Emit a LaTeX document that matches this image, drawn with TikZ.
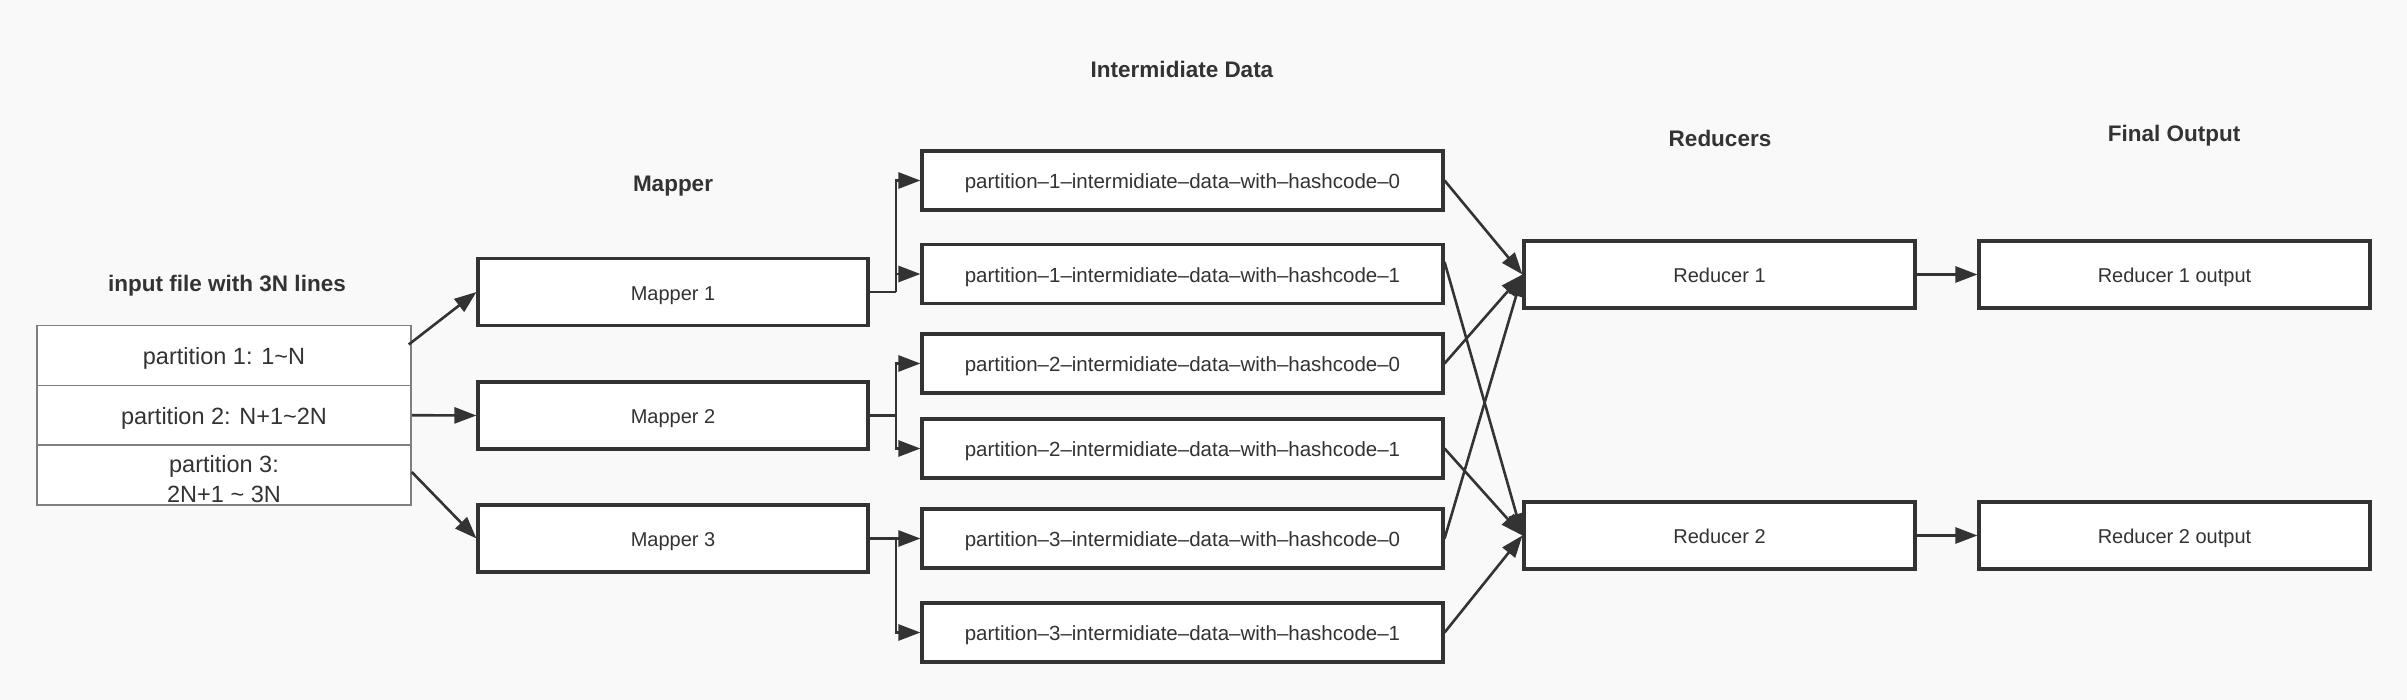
\documentclass[tikz,border=0pt]{standalone}
\usepackage{fontspec}
\setmainfont{Liberation Sans}
\usetikzlibrary{arrows.meta}
\definecolor{ink}{HTML}{333333}
\definecolor{bg}{HTML}{F9F9F9}
\definecolor{thin}{HTML}{808080}
\tikzset{
  box/.style={draw=ink, line width=3.1pt, fill=white, text=ink, inner sep=0pt,
    text height=16.5pt, text depth=0pt, font=\fontsize{20}{24}\selectfont},
  mapbox/.style={box, minimum width=390pt, minimum height=67pt},
  pbox/.style={box, minimum width=521pt, minimum height=59pt, font=\fontsize{20.5}{24}\selectfont},
  rbox/.style={box, minimum width=391pt, minimum height=67pt},
  rowbox/.style={draw=thin, line width=1.5pt, fill=white, inner sep=0pt, text=ink,
    minimum width=374pt, minimum height=59.7pt, font=\fontsize{23.5}{30}\selectfont},
  rowtext/.style={text=ink, inner sep=0pt, align=center, font=\fontsize{23.5}{30}\selectfont},
  title/.style={text=ink, inner sep=0pt, text height=17pt, text depth=0pt,
    font=\fontsize{22.5}{26}\selectfont\bfseries},
  conn/.style={draw=ink, line width=2.6pt},
  arr/.style={conn, -{Triangle[length=22pt,width=16pt]}},
}
\begin{document}
\begin{tikzpicture}[x=1pt,y=-1pt]
\useasboundingbox (0,0) rectangle (2407,700);
\fill[bg] (0,0) rectangle (2407,700);

% titles
\node[title] (tin) at (227,283) {input file with 3N lines};
\node[title] (tmap) at (673,183) {Mapper};
\node[title] (tint) at (1182,69) {Intermidiate Data};
\node[title] (tred) at (1720,138) {Reducers};
\node[title] (tout) at (2174,133) {Final Output};

% input file
\node[rowbox] (row1) at (224,355.5) {};
\node[rowbox] (row2) at (224,415.2) {};
\node[rowbox] (row3) at (224,475) {};
\node[rowtext] (row1t) at (224,358) {partition 1: 1\textasciitilde N};
\node[rowtext] (row2t) at (224,418) {partition 2: N+1\textasciitilde 2N};
\node[rowtext] (row3t) at (224,479.5) {partition 3:\\2N+1 \textasciitilde\ 3N};

% mappers
\node[mapbox] (m1) at (673,292) {Mapper 1};
\node[mapbox] (m2) at (673,415.5) {Mapper 2};
\node[mapbox] (m3) at (673,538.5) {Mapper 3};

% intermediate data
\node[pbox] (p11) at (1182.5,180.5) {partition–1–intermidiate–data–with–hashcode–0};
\node[pbox] (p12) at (1182.5,274) {partition–1–intermidiate–data–with–hashcode–1};
\node[pbox] (p21) at (1182.5,363.5) {partition–2–intermidiate–data–with–hashcode–0};
\node[pbox] (p22) at (1182.5,448.5) {partition–2–intermidiate–data–with–hashcode–1};
\node[pbox] (p31) at (1182.5,538.5) {partition–3–intermidiate–data–with–hashcode–0};
\node[pbox] (p32) at (1182.5,632.5) {partition–3–intermidiate–data–with–hashcode–1};

% reducers and outputs
\node[rbox] (r1) at (1719.5,274.5) {Reducer 1};
\node[rbox] (r2) at (1719.5,535.5) {Reducer 2};
\node[rbox] (o1) at (2174.5,274.5) {Reducer 1 output};
\node[rbox] (o2) at (2174.5,535.5) {Reducer 2 output};

% input -> mappers
\draw[arr] ([xshift=-3pt,yshift=11pt]row1.east) -- (m1.west);
\draw[arr] (row2.east) -- (m2.west);
\draw[arr] ([yshift=3pt]row3.east) -- (m3.west);

% mappers -> intermediate
\coordinate (j1) at (896,292);
\coordinate (j2) at (896,415.5);
\coordinate (j3) at (896,538.5);
\draw[conn] (m1.east) -- (j1);
\draw[arr] (j1) |- (p11.west);
\draw[arr] (j1) |- (p12.west);
\draw[conn] (m2.east) -- (j2);
\draw[arr] (j2) |- (p21.west);
\draw[arr] (j2) |- (p22.west);
\draw[conn] (m3.east) -- (j3);
\draw[arr] (j3) -- (p31.west);
\draw[arr] (j3) |- (p32.west);

% intermediate -> reducers
\draw[arr] (p11.east) -- (r1.west);
\draw[arr] ([yshift=12pt]p12.east) -- (r2.west);
\draw[arr] (p21.east) -- (r1.west);
\draw[arr] (p22.east) -- (r2.west);
\draw[arr] (p31.east) -- (r1.west);
\draw[arr] (p32.east) -- (r2.west);

% reducers -> outputs
\draw[arr] (r1.east) -- (o1.west);
\draw[arr] (r2.east) -- (o2.west);
\end{tikzpicture}
\end{document}
